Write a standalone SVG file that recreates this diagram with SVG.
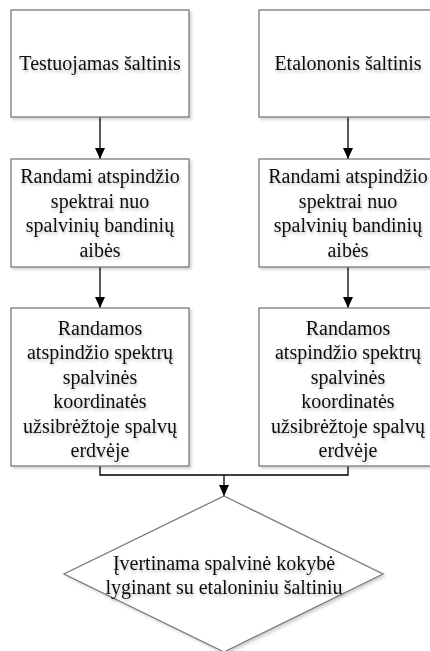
<svg xmlns="http://www.w3.org/2000/svg" width="430" height="651" viewBox="0 0 430 651">
<style>
.box{fill:#ffffff;stroke:#7a7a7a;stroke-width:1.3;filter:url(#sh)}
.t{font-family:"Liberation Serif","Times New Roman",serif;font-size:20px;fill:#111;text-anchor:middle;filter:url(#tsh)}
.c{fill:none;stroke:#000;stroke-width:1.3}
</style>
<defs>
<filter id="sh" x="-10%" y="-10%" width="130%" height="130%"><feDropShadow dx="2" dy="2" stdDeviation="1.5" flood-color="#000" flood-opacity="0.18"/></filter>
<filter id="tsh" x="-10%" y="-30%" width="130%" height="180%"><feDropShadow dx="1" dy="2" stdDeviation="1.5" flood-color="#000" flood-opacity="0.25"/></filter>
<marker id="ah" viewBox="0 0 10 10" refX="10" refY="5" markerWidth="11" markerHeight="10" markerUnits="userSpaceOnUse" orient="auto" preserveAspectRatio="none"><path d="M0,0 L10,5 L0,10 z" fill="#000"/></marker>
</defs>
<g id="connectors">
<line class="c" x1="100" y1="117" x2="100" y2="159" marker-end="url(#ah)"/>
<line class="c" x1="348" y1="117" x2="348" y2="159" marker-end="url(#ah)"/>
<line class="c" x1="100" y1="267" x2="100" y2="308" marker-end="url(#ah)"/>
<line class="c" x1="348" y1="267" x2="348" y2="308" marker-end="url(#ah)"/>
<path class="c" d="M100,466 V475 H348 V466"/>
<line class="c" x1="224" y1="475" x2="224" y2="496" marker-end="url(#ah)"/>
</g>
<g id="n1">
<rect class="box" x="11" y="10" width="178" height="107"/>
<text class="t" x="100" y="70">Testuojamas šaltinis</text>
</g>
<g id="n2">
<rect class="box" x="259" y="10" width="178" height="107"/>
<text class="t" x="348" y="70">Etalononis šaltinis</text>
</g>
<g id="n3">
<rect class="box" x="11" y="159" width="178" height="108"/>
<text class="t" x="100" y="183">Randami atspindžio</text>
<text class="t" x="100" y="208">spektrai nuo</text>
<text class="t" x="100" y="232">spalvinių bandinių</text>
<text class="t" x="100" y="257">aibės</text>
</g>
<g id="n4">
<rect class="box" x="259" y="159" width="178" height="108"/>
<text class="t" x="348" y="183">Randami atspindžio</text>
<text class="t" x="348" y="208">spektrai nuo</text>
<text class="t" x="348" y="232">spalvinių bandinių</text>
<text class="t" x="348" y="257">aibės</text>
</g>
<g id="n5">
<rect class="box" x="11" y="308" width="178" height="158"/>
<text class="t" x="100" y="335">Randamos</text>
<text class="t" x="100" y="359">atspindžio spektrų</text>
<text class="t" x="100" y="384">spalvinės</text>
<text class="t" x="100" y="408">koordinatės</text>
<text class="t" x="100" y="433">užsibrėžtoje spalvų</text>
<text class="t" x="100" y="457">erdvėje</text>
</g>
<g id="n6">
<rect class="box" x="259" y="308" width="178" height="158"/>
<text class="t" x="348" y="335">Randamos</text>
<text class="t" x="348" y="359">atspindžio spektrų</text>
<text class="t" x="348" y="384">spalvinės</text>
<text class="t" x="348" y="408">koordinatės</text>
<text class="t" x="348" y="433">užsibrėžtoje spalvų</text>
<text class="t" x="348" y="457">erdvėje</text>
</g>
<g id="n7">
<polygon class="box" points="224,496 383,574 224,652 64,574"/>
<text class="t" x="224" y="570">Įvertinama spalvinė kokybė</text>
<text class="t" x="224" y="594">lyginant su etaloniniu šaltiniu</text>
</g>
</svg>
